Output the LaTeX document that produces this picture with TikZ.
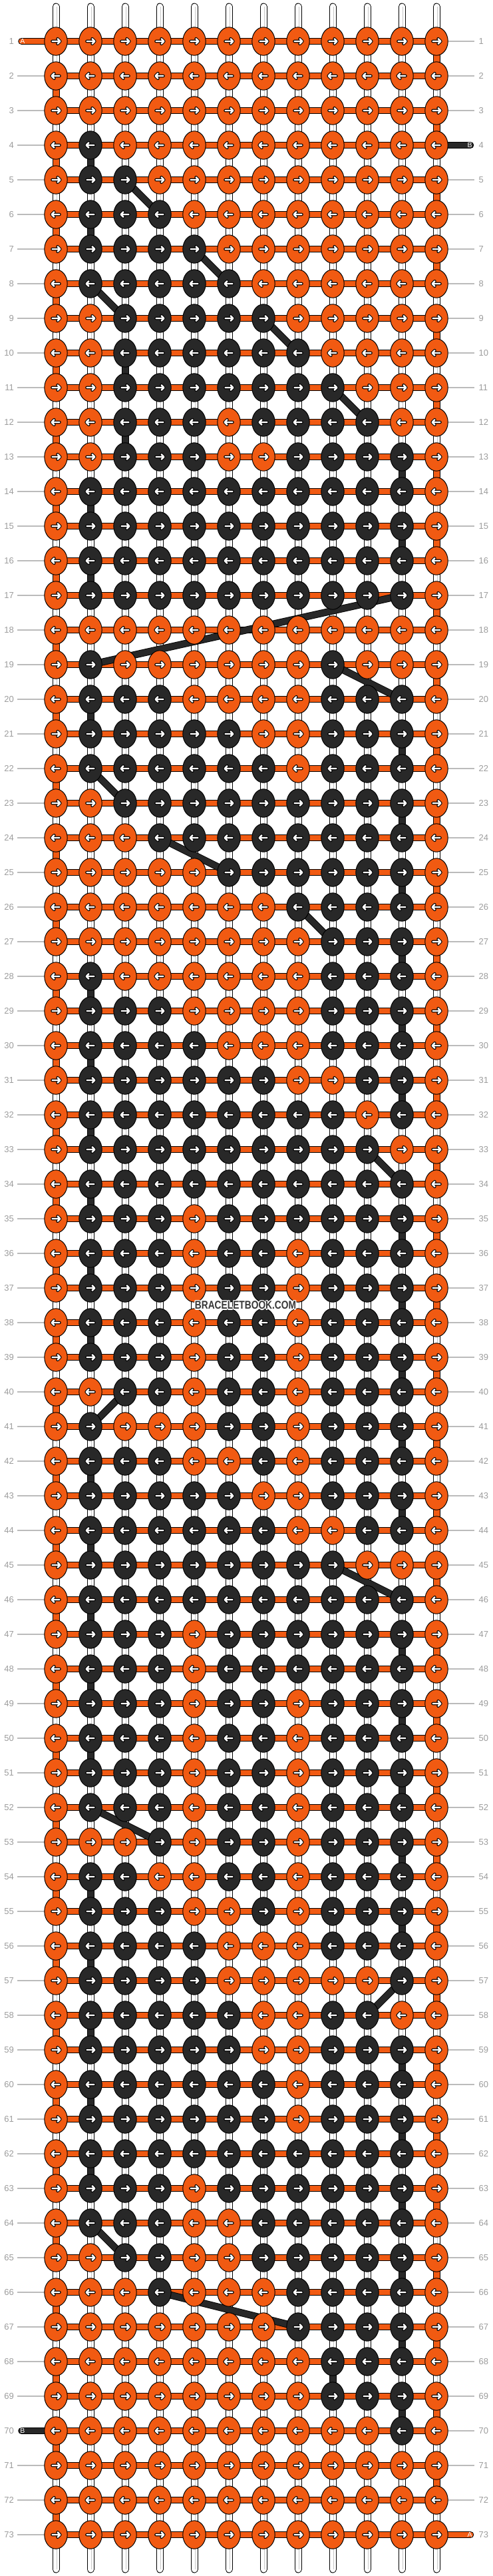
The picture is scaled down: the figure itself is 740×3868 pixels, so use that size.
\documentclass[tikz,border=0pt]{standalone}
\usepackage{graphicx}
\usepackage{fontspec}
\setmainfont{Liberation Sans}
\usetikzlibrary{shapes.geometric}
\definecolor{orng}{HTML}{F15A12}
\definecolor{blk}{HTML}{282828}
\definecolor{lblgray}{HTML}{9C9C9C}
\definecolor{lngray}{HTML}{BBBBBB}
\definecolor{strgray}{HTML}{C8C8C8}
\definecolor{wmgray}{HTML}{383838}
\pgfdeclarelayer{strands}
\pgfdeclarelayer{bars}
\pgfdeclarelayer{diag}
\pgfsetlayers{strands,bars,diag,main}
\newcommand\blkrow[2]{\foreach \cc in {#2}{\expandafter\gdef\csname bk@#1@\cc\endcsname{}}}
\blkrow{4}{2}
\blkrow{5}{2,3}
\blkrow{6}{2,3,4}
\blkrow{7}{2,3,4,5}
\blkrow{8}{2,3,4,5,6}
\blkrow{9}{3,4,5,6,7}
\blkrow{10}{3,4,5,6,7,8}
\blkrow{11}{3,4,5,6,7,8,9}
\blkrow{12}{3,4,5,7,8,9,10}
\blkrow{13}{3,4,5,8,9,10,11}
\blkrow{14}{2,...,11}
\blkrow{15}{2,...,11}
\blkrow{16}{2,...,11}
\blkrow{17}{2,...,11}
\blkrow{19}{2,9}
\blkrow{20}{2,3,4,9,10,11}
\blkrow{21}{2,3,4,5,6,9,10,11}
\blkrow{22}{2,3,4,5,6,7,9,10,11}
\blkrow{23}{3,...,11}
\blkrow{24}{4,...,11}
\blkrow{25}{6,...,11}
\blkrow{26}{8,9,10,11}
\blkrow{27}{9,10,11}
\blkrow{28}{2,9,10,11}
\blkrow{29}{2,3,4,9,10,11}
\blkrow{30}{2,3,4,5,9,10,11}
\blkrow{31}{2,3,4,5,6,7,10,11}
\blkrow{32}{2,3,4,5,6,7,8,9,11}
\blkrow{33}{2,...,10}
\blkrow{34}{2,...,11}
\blkrow{35}{2,3,4,6,7,8,9,10,11}
\blkrow{36}{2,3,4,6,7,9,10,11}
\blkrow{37}{2,3,4,6,7,9,10,11}
\blkrow{38}{2,3,4,6,7,9,10,11}
\blkrow{39}{2,3,4,6,7,9,10,11}
\blkrow{40}{3,4,6,7,9,10,11}
\blkrow{41}{2,6,7,9,10,11}
\blkrow{42}{2,3,4,7,9,10,11}
\blkrow{43}{2,3,4,5,6,9,10,11}
\blkrow{44}{2,3,4,5,6,7,10,11}
\blkrow{45}{2,...,9}
\blkrow{46}{2,...,11}
\blkrow{47}{2,3,4,6,7,8,9,10,11}
\blkrow{48}{2,3,4,6,7,8,9,10,11}
\blkrow{49}{2,3,4,6,7,9,10,11}
\blkrow{50}{2,3,4,6,7,9,10,11}
\blkrow{51}{2,3,4,6,7,9,10,11}
\blkrow{52}{2,3,4,6,7,9,10,11}
\blkrow{53}{4,6,7,9,10,11}
\blkrow{54}{2,3,6,7,9,10,11}
\blkrow{55}{2,3,4,7,9,10,11}
\blkrow{56}{2,3,4,5,9,10,11}
\blkrow{57}{2,3,4,5,11}
\blkrow{58}{2,3,4,5,6,9,10}
\blkrow{59}{2,3,4,5,6,9,10,11}
\blkrow{60}{2,3,4,5,6,7,9,10,11}
\blkrow{61}{2,3,4,5,6,7,9,10,11}
\blkrow{62}{2,...,11}
\blkrow{63}{2,3,4,6,7,8,9,10,11}
\blkrow{64}{2,3,4,7,8,9,10,11}
\blkrow{65}{3,4,7,8,9,10,11}
\blkrow{66}{4,8,9,10,11}
\blkrow{67}{8,9,10,11}
\blkrow{68}{9,10,11}
\blkrow{69}{9,10,11}
\blkrow{70}{11}
\foreach \va/\vb in {4/2,6/2,10/3,12/3,13/11,14/2,15/11,16/2,20/2,21/11,23/11,25/11,27/11,28/2,29/11,30/2,31/11,32/2,34/2,35/11,36/2,37/11,38/2,39/11,41/11,42/2,43/11,44/2,46/2,47/11,48/2,49/11,50/2,51/11,53/11,54/2,55/11,56/2,58/2,59/11,60/2,61/11,62/2,63/11,65/11,67/11,68/9,69/11}{\expandafter\gdef\csname bv@\va @\vb\endcsname{}}
\begin{document}
\begin{tikzpicture}[x=1pt,y=-1pt,
 knot/.style={ellipse, draw=black, line width=1pt, minimum width=34.4pt, minimum height=42.4pt, inner sep=0pt, outer sep=0pt},
 knotO/.style={knot, fill=orng},
 knotB/.style={knot, fill=blk},
 arrO/.style={line width=4.6pt, black, line cap=round, line join=round},
 arrI/.style={line width=2.4pt, white, line cap=round, line join=round},
 hbar/.style={draw=black, line width=1pt, double=orng, double distance=8.6pt},
 capbar/.style={hbar, line cap=round},
 vsegW/.style={draw=black, line width=1pt, double=white, double distance=9pt},
 vsegO/.style={vsegW, double=orng},
 vsegB/.style={vsegW, double=blk},
 strandend/.style={vsegW, line cap=round},
 midline/.style={strgray, line width=0.9pt},
 diagline/.style={draw=black, line width=0.9pt, double=blk, double distance=9pt},
 lblline/.style={lngray, line width=1.1pt},
 rowlbl/.style={text=lblgray, font=\fontsize{13}{13}\selectfont, inner sep=0pt},
 endlbl/.style={text=white, font=\fontsize{10.5}{10.5}\selectfont, inner sep=0pt},
 wm/.style={font=\bfseries\fontsize{17}{17}\selectfont, inner sep=0pt}
]
\useasboundingbox (0,0) rectangle (740,3868);
% knots
\foreach \rw in {1,...,73}{
 \foreach \cc in {1,...,12}{
  \pgfmathsetmacro\xx{84+52*(\cc-1)}
  \pgfmathsetmacro\yy{62+52*(\rw-1)}
  \ifcsname bk@\rw @\cc\endcsname\def\kt{B}\else\def\kt{O}\fi
  \ifodd\rw\relax\def\dir{1}\else\def\dir{-1}\fi
  \node[knot\kt] (k-\rw-\cc) at (\xx,\yy) {};
  \draw[arrO, shift={(k-\rw-\cc.center)}, xscale=\dir] (-5.5,0) -- (6.3,0) (2.6,-3.8) -- (6.3,0) -- (2.6,3.8);
  \draw[arrI, shift={(k-\rw-\cc.center)}, xscale=\dir] (-5.5,0) -- (6.3,0) (2.6,-3.8) -- (6.3,0) -- (2.6,3.8);
 }
}
% vertical strands
\begin{pgfonlayer}{strands}
\foreach \cc in {1,...,12}{
  \pgfmathsetmacro\xx{84+52*(\cc-1)}
  \coordinate (top-\cc) at (\xx,10);
  \coordinate (bot-\cc) at (\xx,3858);
  \draw[strandend] (top-\cc) -- (k-1-\cc.center);
  \draw[midline] ([xshift=1pt]top-\cc) -- ([xshift=1pt]k-1-\cc.center);
  \draw[strandend] (k-73-\cc.center) -- (bot-\cc);
  \draw[midline] ([xshift=1pt]k-73-\cc.center) -- ([xshift=1pt]bot-\cc);
}
\foreach \rw in {1,...,72}{
 \pgfmathtruncatemacro\rn{\rw+1}
 \foreach \cc in {1,...,12}{
  \def\vt{W}
  \ifodd\rw\relax \ifnum\cc=12 \def\vt{O}\fi \else \ifnum\cc=1 \def\vt{O}\fi \fi
  \ifcsname bv@\rw @\cc\endcsname\def\vt{B}\fi
  \draw[vseg\vt] (k-\rw-\cc.center) -- (k-\rn-\cc.center);
  \if W\vt \draw[midline] ([xshift=1pt]k-\rw-\cc.center) -- ([xshift=1pt]k-\rn-\cc.center);\fi
 }
}
% row labels
\foreach \rw in {1,...,73}{
 \pgfmathsetmacro\yy{62+52*(\rw-1)}
 \coordinate (ll-\rw) at (26,\yy);
 \coordinate (rl-\rw) at (713,\yy);
 \ifnum\rw=1 \else\ifnum\rw=70 \else \draw[lblline] (ll-\rw) -- (k-\rw-1.center);\fi\fi
 \ifnum\rw=4 \else\ifnum\rw=73 \else \draw[lblline] (k-\rw-12.center) -- (rl-\rw);\fi\fi
 \node[rowlbl, anchor=east] (ln-\rw) at (21,\yy) {\rw};
 \node[rowlbl, anchor=west] (rn-\rw) at (719.5,\yy) {\rw};
}
\end{pgfonlayer}
% horizontal bars
\begin{pgfonlayer}{bars}
\foreach \rw in {1,...,73}{\draw[hbar] (k-\rw-1.center) -- (k-\rw-12.center);}
\coordinate (Ain) at (32.5,62);
\coordinate (Aout) at (707,3806);
\coordinate (Bin) at (707,218);
\coordinate (Bout) at (32.5,3650);
\draw[capbar] (Ain) -- (k-1-1.center);
\draw[capbar] (k-73-12.center) -- (Aout);
\draw[capbar, double=blk] (k-4-12.center) -- (Bin);
\draw[capbar, double=blk] (Bout) -- (k-70-1.center);
\end{pgfonlayer}
% diagonal jumps of thread B
\begin{pgfonlayer}{diag}
\foreach \ra/\ca/\rb/\cb in {5/3/6/4, 7/5/8/6, 8/2/9/3, 9/7/10/8, 11/9/12/10, 17/11/19/2, 19/9/20/11, 22/2/23/3, 24/4/25/6, 26/8/27/9, 33/10/34/11, 40/3/41/2, 45/9/46/11, 52/2/53/4, 57/11/58/10, 64/2/65/3, 66/4/67/8}{
  \draw[diagline] (k-\ra-\ca.center) -- (k-\rb-\cb.center);
}
\end{pgfonlayer}
% end labels
\node[endlbl] (lA1) at (34,62) {A};
\node[endlbl] (lA2) at (706,3806) {A};
\node[endlbl] (lB1) at (706,218) {B};
\node[endlbl] (lB2) at (34,3650) {B};
% watermark
\foreach \dx/\dy [count=\i] in {-1.2/0,1.2/0,0/-1.2,0/1.2,-0.9/-0.9,0.9/-0.9,-0.9/0.9,0.9/0.9}{
  \node[wm, text=white] (wmw\i) at ({369+\dx},{1960+\dy}) {\scalebox{0.81}[1]{BRACELETBOOK.COM}};
}
\node[wm, text=wmgray] (wmark) at (369,1960) {\scalebox{0.81}[1]{BRACELETBOOK.COM}};
\end{tikzpicture}
\end{document}
